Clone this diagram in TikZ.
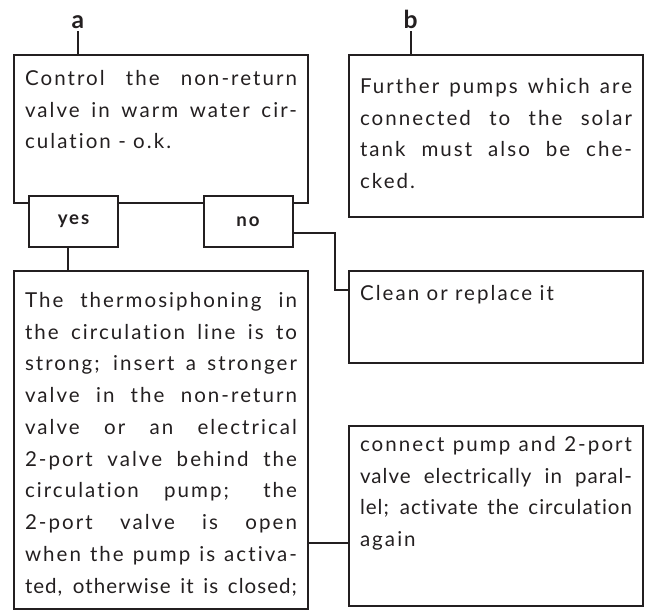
\documentclass[tikz,border=0pt]{standalone}
\usepackage{fontspec}
\setmainfont{Lato}[LetterSpace=10,Ligatures=NoCommon]
\definecolor{ink}{HTML}{231F20}
\newcommand\jl[1]{\makebox[\linewidth][s]{#1}\par}
\newcommand\jt[1]{{\addfontfeature{LetterSpace=5}\makebox[\linewidth][s]{#1}\par}}
\newcommand\boxtxt[3]{\parbox[t][#1][t]{204pt}{\vspace*{#2}#3}}
\tikzset{
  frame/.style={draw=ink, line width=1.5pt, anchor=north west, outer sep=0pt,
    inner xsep=8.25pt, inner ysep=0pt, text=ink,
    font=\fontsize{15.4}{23.8}\selectfont},
  tag/.style={draw=ink, line width=1.5pt, fill=white, outer sep=0pt,
    minimum width=66.75pt, minimum height=38.25pt, text=ink,
    font=\bfseries\fontsize{14}{16}\selectfont},
  lbl/.style={inner sep=2.25pt, anchor=base, text=ink,
    font=\bfseries\fontsize{18.5}{20}\selectfont},
  conn/.style={draw=ink, line width=1.5pt}
}
\begin{document}
\begin{tikzpicture}[x=0.75pt,y=-0.75pt]
\useasboundingbox (0,0) rectangle (648,611);
% boxes
\node[frame] (c) at (14,55) {\boxtxt{111pt}{11.5pt}{%
  \jl{Control the non-return}
  \jl{valve in warm water cir-}
  culation - o.k.}};
\node[frame] (f) at (349,55) {\boxtxt{121.5pt}{17.5pt}{%
  \jl{Further pumps which are}
  \jl{connected to the solar}
  \jl{tank must also be che-}
  cked.}};
\node[frame] (cl) at (349,271) {\boxtxt{69pt}{10.75pt}{Clean or replace it}};
\node[frame] (t) at (14,271) {\boxtxt{253.5pt}{16pt}{%
  \jl{The thermosiphoning in}
  \jl{the circulation line is to}
  \jl{strong; insert a stronger}
  \jl{valve in the non-return}
  \jl{valve or an electrical}
  \jl{2-port valve behind the}
  \jl{circulation pump; the}
  \jl{2-port valve is open}
  \jl{when the pump is activa-}
  \jt{ted, otherwise it is closed;}}};
\node[frame] (cp) at (349,426) {\boxtxt{135pt}{7.75pt}{%
  \jl{connect pump and 2-port}
  \jt{valve electrically in paral-}
  \jt{lel; activate the circulation}
  again}};
% tags
\node[tag] (yes) at (73.5,221.5) {yes};
\node[tag] (no) at (248,221.5) {no};
% labels
\node[lbl] (a) at (78,28) {a};
\node[lbl] (b) at (410.5,28) {b};
% connectors
\draw[conn] (a.south) -- (a.south |- c.north);
\draw[conn] (b.south) -- (b.south |- f.north);
\draw[conn] ([xshift=-4.1pt]yes.south) coordinate (ys) -- (ys |- t.north);
\draw[conn] ([yshift=-8.6pt]no.east) -- ++(42,0) |- ([yshift=20.25pt]cl.west);
\draw[conn] ([yshift=-77.25pt]t.east) coordinate (m) -- (m -| cp.west);
\end{tikzpicture}
\end{document}
